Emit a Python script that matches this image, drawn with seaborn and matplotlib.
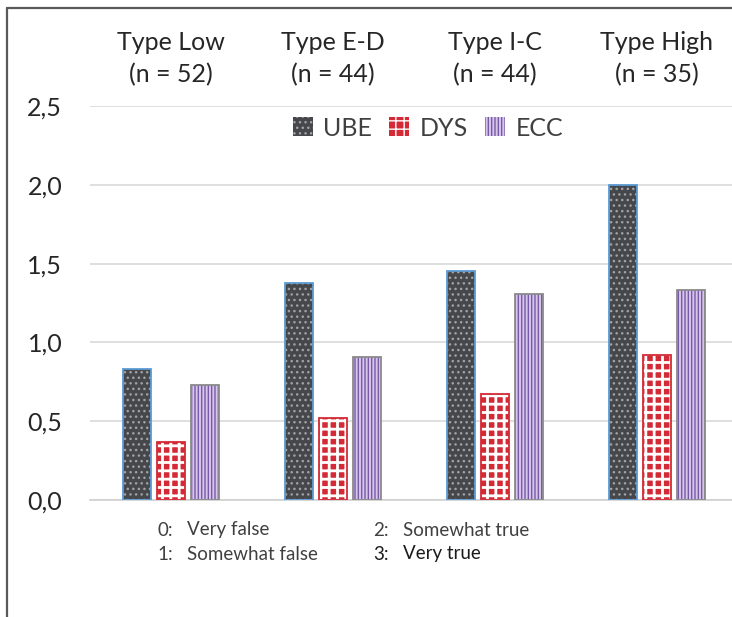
import matplotlib
matplotlib.use("Agg")
import matplotlib.pyplot as plt
import matplotlib.patches as mpatches
import matplotlib.lines as mlines
import matplotlib.ticker as mticker
import seaborn as sns
import pandas as pd

# Datos
tipos = ["Type Low", "Type E-D", "Type I-C", "Type High"]
n_tipo = [52, 44, 44, 35]
escalas = ["UBE", "DYS", "ECC"]
ube = [0.83, 1.38, 1.45, 2.00]
dys = [0.37, 0.52, 0.67, 0.92]
ecc = [0.73, 0.91, 1.31, 1.33]
notas_escala = ["0:", "1:", "2:", "3:"]
textos_escala = ["Very false", "Somewhat false", "Somewhat true", "Very true"]

df = pd.DataFrame({
    "tipo": tipos * 3,
    "escala": [e for e in escalas for _ in tipos],
    "valor": ube + dys + ecc,
})

sns.set_style("white")
plt.rcParams["font.family"] = ["Lato", "DejaVu Sans"]

fig = plt.figure(figsize=(7.32, 6.17), dpi=100)
ax = fig.add_axes([90 / 732, 117 / 617, 648 / 732, 394 / 617])

sns.barplot(data=df, x="tipo", y="valor", hue="escala", order=tipos,
            hue_order=escalas, width=0.63, gap=0.15, ax=ax, legend=False)

# estilos: (relleno, hatch, color del hatch, borde, grosor hatch)
estilos = {
    "UBE": ("#45474b", "...", "#a0a2a6", "#5b9bd5", 1.0),
    "DYS": ("#d42a35", "++", "#ffffff", "#d42a35", 2.0),
    "ECC": ("#d6c6ea", "|||||", "#7a5aa8", "#8a8a8a", 1.0),
}

plt.rcParams["hatch.linewidth"] = 1.0
for cont, esc in zip(ax.containers, escalas):
    relleno, hatch, hcol, borde, hlw = estilos[esc]
    for p in cont.patches:
        p.set_facecolor(relleno)
        p.set_hatch(hatch)
        p.set_edgecolor(hcol)
        p.set_linewidth(0)
        if hasattr(p, "set_hatch_linewidth"):
            p.set_hatch_linewidth(hlw)
        # contorno encima del relleno rayado
        ax.add_patch(mpatches.Rectangle((p.get_x(), p.get_y()), p.get_width(),
                                        p.get_height(), fill=False,
                                        edgecolor=borde, linewidth=1.3, zorder=3))

# Leyenda
handles = []
for esc in escalas:
    relleno, hatch, hcol, borde, hlw = estilos[esc]
    h = mpatches.Patch(facecolor=relleno, hatch=hatch, edgecolor=hcol, linewidth=0)
    if hasattr(h, "set_hatch_linewidth"):
        h.set_hatch_linewidth(hlw)
    handles.append(h)
ax.legend(handles, escalas, loc="center", bbox_to_anchor=(338 / 648, 0.944),
          ncol=3, frameon=False, fontsize=18, handlelength=0.8, handleheight=0.8,
          handletextpad=0.4, columnspacing=0.7, labelcolor="#404040")

# Ejes
ax.set_ylim(0, 2.5)
ax.set_xlim(-0.5, 3.5)
ax.set_yticks([0, 0.5, 1.0, 1.5, 2.0, 2.5])
ax.yaxis.set_major_formatter(mticker.FuncFormatter(lambda v, pos: f"{v:.1f}".replace(".", ",")))
ax.tick_params(axis="y", length=0, pad=20, labelsize=18, labelcolor="#262626")
ax.grid(axis="y", color="#d9d9d9", linewidth=1.2)
ax.set_axisbelow(True)
ax.set_xlabel("")
ax.set_ylabel("")
ax.set_xticks([])
ax.set_xticks([-0.5, 0.5, 1.5, 2.5, 3.5], minor=True)
ax.tick_params(axis="x", which="minor", length=7, width=1.2, color="#d0d0d0")
for s in ["top", "right", "left"]:
    ax.spines[s].set_visible(False)
ax.spines["bottom"].set_color("#d0d0d0")
ax.spines["bottom"].set_linewidth(1.2)

# Titulos de cada tipo
for i, (t, n) in enumerate(zip(tipos, n_tipo)):
    ax.text(i, 1.12, f"{t}\n(n = {n})", transform=ax.get_xaxis_transform(),
            ha="center", va="center", fontsize=18, color="#262626", linespacing=1.5)

# Notas de la escala
pos_x = [157, 157, 373, 373]
pos_y = [530, 554, 530, 554]
colores = ["#404040", "#404040", "#404040", "#1a1a1a"]
for nota, txt, x, y, c in zip(notas_escala, textos_escala, pos_x, pos_y, colores):
    fig.text(x / 732, 1 - y / 617, nota, fontsize=13.5, color=c, va="center")
    fig.text((x + 30) / 732, 1 - y / 617, txt, fontsize=13.5, color=c, va="center")

# Marco
fig.add_artist(mlines.Line2D([7 / 732, 7 / 732], [0, 1 - 8 / 617], color="#595959", lw=1.6))
fig.add_artist(mlines.Line2D([7 / 732, 1], [1 - 8 / 617, 1 - 8 / 617], color="#595959", lw=1.6))

fig.savefig("out.png", dpi=100)
